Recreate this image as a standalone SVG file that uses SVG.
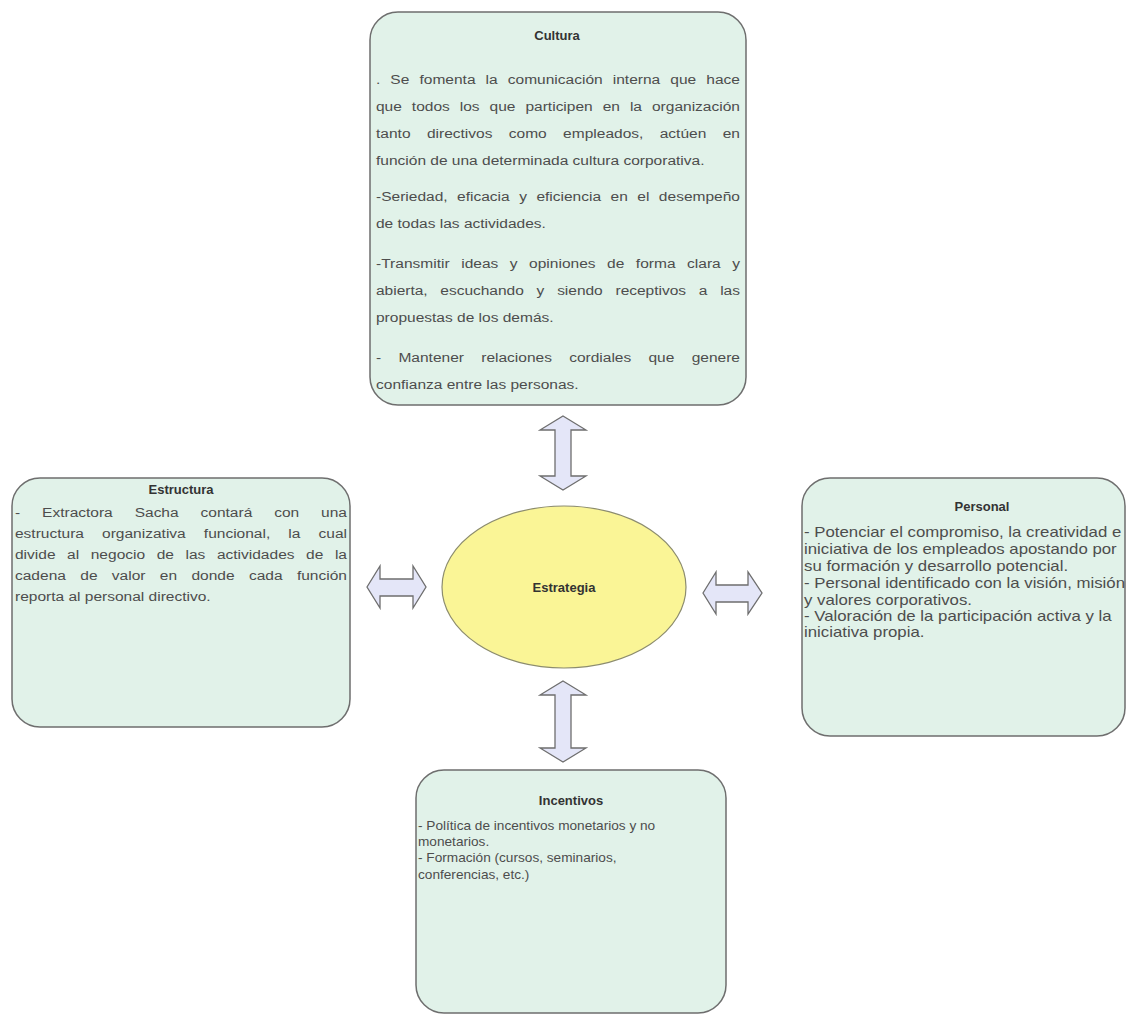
<svg xmlns="http://www.w3.org/2000/svg" width="1128" height="1016" viewBox="0 0 1128 1016">
<style>
.box{fill:#e1f2e9;stroke:#6e6e6e;stroke-width:1.5}
.t{font-family:"Liberation Sans",Arial,sans-serif;font-size:13px;fill:#4d4d4d}
.j{font-size:13.5px}
.p{font-size:14px}
.h{font-family:"Liberation Sans",Arial,sans-serif;font-size:13px;font-weight:bold;fill:#333;text-anchor:middle}
.arr{fill:#e4e6f8;stroke:#6e6e6e;stroke-width:1.3;stroke-linejoin:miter}
</style>
<rect width="1128" height="1016" fill="#ffffff"/>
<g id="connectors">
<polygon class="arr" points="563,416 586,430 571,430 571,476 586,476 563,490 540,476 555,476 555,430 540,430"/>
<polygon class="arr" points="563,681 586,695 571,695 571,748 586,748 563,762 540,748 555,748 555,695 540,695"/>
<polygon class="arr" points="367,587 380,566 380,579 413,579 413,566 426,587 413,608 413,596 380,596 380,608"/>
<polygon class="arr" points="703,593 716,572 716,585 748,585 748,572 762,593 748,614 748,602 716,602 716,614"/>
</g>
<g id="cultura">
<rect class="box" x="370" y="12" width="376" height="393" rx="28"/>
<text class="h" x="557" y="40">Cultura</text>
<g transform="translate(376,0) scale(1.15,1)">
<text class="t j" x="0" y="84.5" word-spacing="5.0" textLength="316.5" lengthAdjust="spacing">. Se fomenta la comunicación interna que hace</text>
<text class="t j" x="0" y="111.5" word-spacing="4.9" textLength="316.5" lengthAdjust="spacing">que todos los que participen en la organización</text>
<text class="t j" x="0" y="138.5" word-spacing="10.5" textLength="316.5" lengthAdjust="spacing">tanto directivos como empleados, actúen en</text>
<text class="t j" x="0" y="165.5">función de una determinada cultura corporativa.</text>
<text class="t j" x="0" y="201.5" word-spacing="4.5" textLength="316.5" lengthAdjust="spacing">-Seriedad, eficacia y eficiencia en el desempeño</text>
<text class="t j" x="0" y="228.5">de todas las actividades.</text>
<text class="t j" x="0" y="268.5" word-spacing="6.2" textLength="316.5" lengthAdjust="spacing">-Transmitir ideas y opiniones de forma clara y</text>
<text class="t j" x="0" y="295.5" word-spacing="7.4" textLength="316.5" lengthAdjust="spacing">abierta, escuchando y siendo receptivos a las</text>
<text class="t j" x="0" y="322.5">propuestas de los demás.</text>
<text class="t j" x="0" y="362.5" word-spacing="11.3" textLength="316.5" lengthAdjust="spacing">- Mantener relaciones cordiales que genere</text>
<text class="t j" x="0" y="389">confianza entre las personas.</text>
</g>
</g>
<g id="estructura">
<rect class="box" x="12" y="478" width="338" height="249" rx="28"/>
<text class="h" x="181" y="494">Estructura</text>
<g transform="translate(15,0) scale(1.15,1)">
<text class="t j" x="0" y="517" word-spacing="15.3" textLength="288.7" lengthAdjust="spacing">- Extractora Sacha contará con una</text>
<text class="t j" x="0" y="538" word-spacing="12.0" textLength="288.7" lengthAdjust="spacing">estructura organizativa funcional, la cual</text>
<text class="t j" x="0" y="559" word-spacing="6.3" textLength="288.7" lengthAdjust="spacing">divide al negocio de las actividades de la</text>
<text class="t j" x="0" y="580" word-spacing="8.7" textLength="288.7" lengthAdjust="spacing">cadena de valor en donde cada función</text>
<text class="t j" x="0" y="601">reporta al personal directivo.</text>
</g>
</g>
<g id="personal">
<rect class="box" x="802" y="478" width="323" height="258" rx="28"/>
<text class="h" x="982" y="511">Personal</text>
<g transform="translate(804,0) scale(1.2,1)">
<text class="t p" x="0" y="537">- Potenciar el compromiso, la creatividad e</text>
<text class="t p" x="0" y="554">iniciativa de los empleados apostando por</text>
<text class="t p" x="0" y="571">su formación y desarrollo potencial.</text>
<text class="t p" x="0" y="588">- Personal identificado con la visión, misión</text>
<text class="t p" x="0" y="605">y valores corporativos.</text>
<text class="t p" x="0" y="621">- Valoración de la participación activa y la</text>
<text class="t p" x="0" y="637">iniciativa propia.</text>
</g>
</g>
<g id="incentivos">
<rect class="box" x="416" y="770" width="310" height="243" rx="28"/>
<text class="h" x="571" y="805">Incentivos</text>
<g transform="translate(418,0) scale(1.05,1)">
<text class="t" x="0" y="830">- Política de incentivos monetarios y no</text>
<text class="t" x="0" y="846">monetarios.</text>
<text class="t" x="0" y="862">- Formación (cursos, seminarios,</text>
<text class="t" x="0" y="879">conferencias, etc.)</text>
</g>
</g>
<g id="estrategia">
<ellipse cx="564" cy="587" rx="122" ry="81" fill="#faf596" stroke="#8c8c6e" stroke-width="1.2"/>
<text class="h" x="564" y="592">Estrategia</text>
</g>
</svg>
